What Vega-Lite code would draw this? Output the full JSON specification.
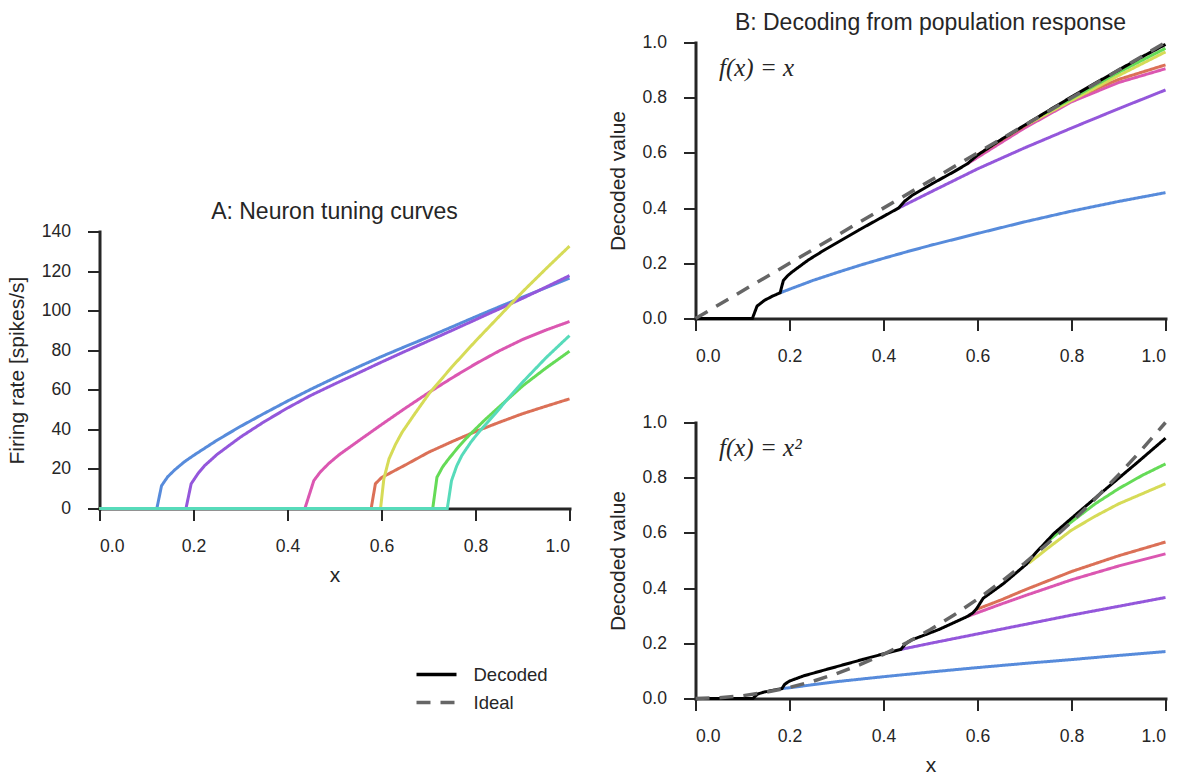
{
  "$schema": "https://vega.github.io/schema/vega-lite/v6.json",
  "background": "white",
  "padding": {"left": 6.5, "top": 11.5, "right": 5, "bottom": 5},
  "config": {
    "font": "Liberation Sans",
    "view": {"stroke": null},
    "axis": {
      "domainColor": "#262626", "domainWidth": 3, "domainCap": "square",
      "tickColor": "#262626", "tickWidth": 2, "tickSize": 12,
      "labelColor": "#262626", "labelFont": "Liberation Sans", "labelFontSize": 17.6,
      "titleColor": "#262626", "titleFont": "Liberation Sans", "titleFontSize": 21, "titleFontWeight": "normal",
      "grid": false, "zindex": 1
    },
    "axisY": {"titlePadding": 13.5, "labelPadding": 17},
    "axisX": {"titlePadding": 9, "labelPadding": 17},
    "title": {"font": "Liberation Sans", "fontSize": 23, "fontWeight": "normal", "color": "#262626", "frame": "group", "baseline": "alphabetic", "offset": -1},
    "legend": {
      "labelFont": "Liberation Sans", "labelFontSize": 18.5, "labelColor": "#262626",
      "symbolType": "stroke", "symbolSize": 1600, "symbolStrokeWidth": 3.5, "labelOffset": 15,
      "padding": 0, "rowPadding": 0, "clipHeight": 28
    }
  },
  "datasets": {
    "tuning": [
      {"series":"n1","x":0,"y":0},{"series":"n1","x":0.122,"y":0},{"series":"n1","x":0.132,"y":11.5},{"series":"n1","x":0.145,"y":16},{"series":"n1","x":0.16,"y":19.5},{"series":"n1","x":0.18,"y":23.5},{"series":"n1","x":0.2,"y":26.8},{"series":"n1","x":0.25,"y":34.5},{"series":"n1","x":0.3,"y":41.5},{"series":"n1","x":0.35,"y":48},{"series":"n1","x":0.4,"y":54.3},{"series":"n1","x":0.45,"y":60.3},{"series":"n1","x":0.5,"y":66},{"series":"n1","x":0.55,"y":71.5},{"series":"n1","x":0.6,"y":76.8},{"series":"n1","x":0.65,"y":81.8},{"series":"n1","x":0.7,"y":86.7},{"series":"n1","x":0.75,"y":91.8},{"series":"n1","x":0.8,"y":96.9},{"series":"n1","x":0.85,"y":101.9},{"series":"n1","x":0.9,"y":106.8},{"series":"n1","x":0.95,"y":111.6},{"series":"n1","x":1.0,"y":116.4},
      {"series":"n2","x":0,"y":0},{"series":"n2","x":0.184,"y":0},{"series":"n2","x":0.195,"y":12.5},{"series":"n2","x":0.21,"y":17.8},{"series":"n2","x":0.223,"y":21.5},{"series":"n2","x":0.25,"y":27.3},{"series":"n2","x":0.3,"y":36.1},{"series":"n2","x":0.35,"y":43.8},{"series":"n2","x":0.4,"y":50.8},{"series":"n2","x":0.45,"y":57.2},{"series":"n2","x":0.5,"y":62.9},{"series":"n2","x":0.55,"y":68.4},{"series":"n2","x":0.6,"y":74},{"series":"n2","x":0.65,"y":79.4},{"series":"n2","x":0.7,"y":84.7},{"series":"n2","x":0.75,"y":90},{"series":"n2","x":0.8,"y":95.4},{"series":"n2","x":0.85,"y":100.8},{"series":"n2","x":0.9,"y":106.2},{"series":"n2","x":0.95,"y":111.9},{"series":"n2","x":1.0,"y":117.7},
      {"series":"n3","x":0,"y":0},{"series":"n3","x":0.437,"y":0},{"series":"n3","x":0.456,"y":14.1},{"series":"n3","x":0.47,"y":18.5},{"series":"n3","x":0.488,"y":22.8},{"series":"n3","x":0.51,"y":27.2},{"series":"n3","x":0.55,"y":34.0},{"series":"n3","x":0.6,"y":42.4},{"series":"n3","x":0.65,"y":50.6},{"series":"n3","x":0.7,"y":58.5},{"series":"n3","x":0.75,"y":66.0},{"series":"n3","x":0.8,"y":73.1},{"series":"n3","x":0.85,"y":79.6},{"series":"n3","x":0.9,"y":85.4},{"series":"n3","x":0.95,"y":90.2},{"series":"n3","x":1.0,"y":94.5},
      {"series":"n4","x":0,"y":0},{"series":"n4","x":0.578,"y":0},{"series":"n4","x":0.587,"y":12.5},{"series":"n4","x":0.6,"y":15.6},{"series":"n4","x":0.63,"y":19.4},{"series":"n4","x":0.65,"y":21.9},{"series":"n4","x":0.7,"y":28.4},{"series":"n4","x":0.75,"y":33.8},{"series":"n4","x":0.8,"y":38.9},{"series":"n4","x":0.85,"y":43.5},{"series":"n4","x":0.9,"y":47.9},{"series":"n4","x":0.95,"y":51.7},{"series":"n4","x":1.0,"y":55.4},
      {"series":"n5","x":0,"y":0},{"series":"n5","x":0.598,"y":0},{"series":"n5","x":0.605,"y":15},{"series":"n5","x":0.616,"y":25.1},{"series":"n5","x":0.63,"y":32.5},{"series":"n5","x":0.644,"y":38.6},{"series":"n5","x":0.67,"y":47.6},{"series":"n5","x":0.701,"y":58},{"series":"n5","x":0.75,"y":71.6},{"series":"n5","x":0.8,"y":84.6},{"series":"n5","x":0.85,"y":97},{"series":"n5","x":0.9,"y":109.5},{"series":"n5","x":0.95,"y":121.2},{"series":"n5","x":1.0,"y":132.6},
      {"series":"n6","x":0,"y":0},{"series":"n6","x":0.709,"y":0},{"series":"n6","x":0.718,"y":15.8},{"series":"n6","x":0.73,"y":21},{"series":"n6","x":0.743,"y":25.1},{"series":"n6","x":0.765,"y":31.5},{"series":"n6","x":0.786,"y":36.9},{"series":"n6","x":0.82,"y":44.8},{"series":"n6","x":0.85,"y":51.3},{"series":"n6","x":0.9,"y":61.9},{"series":"n6","x":0.95,"y":71},{"series":"n6","x":1.0,"y":79.5},
      {"series":"n7","x":0,"y":0},{"series":"n7","x":0.74,"y":0},{"series":"n7","x":0.749,"y":14.1},{"series":"n7","x":0.76,"y":21.5},{"series":"n7","x":0.771,"y":26.8},{"series":"n7","x":0.79,"y":33.5},{"series":"n7","x":0.807,"y":38.6},{"series":"n7","x":0.842,"y":47.9},{"series":"n7","x":0.87,"y":55.8},{"series":"n7","x":0.9,"y":63.8},{"series":"n7","x":0.95,"y":76.2},{"series":"n7","x":1.0,"y":87.4}
    ],
    "decx": [
      {"series":"n1","x":0.18,"y":0.093},{"series":"n1","x":0.2,"y":0.106},{"series":"n1","x":0.25,"y":0.138},{"series":"n1","x":0.3,"y":0.166},{"series":"n1","x":0.35,"y":0.193},{"series":"n1","x":0.4,"y":0.218},{"series":"n1","x":0.45,"y":0.242},{"series":"n1","x":0.5,"y":0.265},{"series":"n1","x":0.6,"y":0.308},{"series":"n1","x":0.7,"y":0.35},{"series":"n1","x":0.8,"y":0.389},{"series":"n1","x":0.9,"y":0.424},{"series":"n1","x":1.0,"y":0.456},
      {"series":"n2","x":0.432,"y":0.40},{"series":"n2","x":0.5,"y":0.458},{"series":"n2","x":0.6,"y":0.542},{"series":"n2","x":0.7,"y":0.618},{"series":"n2","x":0.8,"y":0.69},{"series":"n2","x":0.9,"y":0.76},{"series":"n2","x":1.0,"y":0.828},
      {"series":"n3","x":0.578,"y":0.56},{"series":"n3","x":0.65,"y":0.637},{"series":"n3","x":0.7,"y":0.69},{"series":"n3","x":0.8,"y":0.785},{"series":"n3","x":0.9,"y":0.855},{"series":"n3","x":1.0,"y":0.905},
      {"series":"n4","x":0.598,"y":0.59},{"series":"n4","x":0.65,"y":0.645},{"series":"n4","x":0.7,"y":0.697},{"series":"n4","x":0.8,"y":0.795},{"series":"n4","x":0.9,"y":0.866},{"series":"n4","x":1.0,"y":0.919},
      {"series":"n5","x":0.709,"y":0.706},{"series":"n5","x":0.8,"y":0.79},{"series":"n5","x":0.9,"y":0.88},{"series":"n5","x":1.0,"y":0.966},
      {"series":"n6","x":0.74,"y":0.74},{"series":"n6","x":0.8,"y":0.797},{"series":"n6","x":0.9,"y":0.892},{"series":"n6","x":1.0,"y":0.979},
      {"series":"Decoded","x":0,"y":0},{"series":"Decoded","x":0.121,"y":0},{"series":"Decoded","x":0.131,"y":0.045},{"series":"Decoded","x":0.147,"y":0.066},{"series":"Decoded","x":0.165,"y":0.082},{"series":"Decoded","x":0.18,"y":0.093},{"series":"Decoded","x":0.187,"y":0.138},{"series":"Decoded","x":0.196,"y":0.155},{"series":"Decoded","x":0.205,"y":0.168},{"series":"Decoded","x":0.24,"y":0.212},{"series":"Decoded","x":0.276,"y":0.25},{"series":"Decoded","x":0.347,"y":0.32},{"series":"Decoded","x":0.4,"y":0.37},{"series":"Decoded","x":0.432,"y":0.40},{"series":"Decoded","x":0.445,"y":0.425},{"series":"Decoded","x":0.461,"y":0.446},{"series":"Decoded","x":0.503,"y":0.488},{"series":"Decoded","x":0.55,"y":0.532},{"series":"Decoded","x":0.578,"y":0.56},{"series":"Decoded","x":0.6,"y":0.592},{"series":"Decoded","x":0.65,"y":0.648},{"series":"Decoded","x":0.7,"y":0.7},{"series":"Decoded","x":0.75,"y":0.752},{"series":"Decoded","x":0.8,"y":0.803},{"series":"Decoded","x":0.85,"y":0.852},{"series":"Decoded","x":0.9,"y":0.9},{"series":"Decoded","x":0.95,"y":0.948},{"series":"Decoded","x":1.0,"y":0.993},
      {"series":"Ideal","x":0,"y":0},{"series":"Ideal","x":1,"y":1}
    ],
    "decx2": [
      {"series":"n1","x":0.184,"y":0.036},{"series":"n1","x":0.2,"y":0.039},{"series":"n1","x":0.3,"y":0.061},{"series":"n1","x":0.4,"y":0.079},{"series":"n1","x":0.5,"y":0.096},{"series":"n1","x":0.6,"y":0.112},{"series":"n1","x":0.7,"y":0.127},{"series":"n1","x":0.8,"y":0.141},{"series":"n1","x":0.9,"y":0.156},{"series":"n1","x":1.0,"y":0.17},
      {"series":"n2","x":0.437,"y":0.178},{"series":"n2","x":0.5,"y":0.2},{"series":"n2","x":0.6,"y":0.234},{"series":"n2","x":0.7,"y":0.268},{"series":"n2","x":0.8,"y":0.302},{"series":"n2","x":0.9,"y":0.334},{"series":"n2","x":1.0,"y":0.366},
      {"series":"n3","x":0.578,"y":0.297},{"series":"n3","x":0.65,"y":0.342},{"series":"n3","x":0.7,"y":0.372},{"series":"n3","x":0.8,"y":0.43},{"series":"n3","x":0.9,"y":0.48},{"series":"n3","x":1.0,"y":0.524},
      {"series":"n4","x":0.598,"y":0.323},{"series":"n4","x":0.65,"y":0.357},{"series":"n4","x":0.7,"y":0.393},{"series":"n4","x":0.8,"y":0.46},{"series":"n4","x":0.9,"y":0.517},{"series":"n4","x":1.0,"y":0.567},
      {"series":"n5","x":0.709,"y":0.49},{"series":"n5","x":0.75,"y":0.545},{"series":"n5","x":0.8,"y":0.61},{"series":"n5","x":0.85,"y":0.66},{"series":"n5","x":0.9,"y":0.705},{"series":"n5","x":1.0,"y":0.778},
      {"series":"n6","x":0.743,"y":0.56},{"series":"n6","x":0.8,"y":0.64},{"series":"n6","x":0.85,"y":0.705},{"series":"n6","x":0.9,"y":0.76},{"series":"n6","x":0.95,"y":0.808},{"series":"n6","x":1.0,"y":0.85},
      {"series":"Decoded","x":0,"y":0},{"series":"Decoded","x":0.122,"y":0},{"series":"Decoded","x":0.132,"y":0.016},{"series":"Decoded","x":0.145,"y":0.023},{"series":"Decoded","x":0.16,"y":0.028},{"series":"Decoded","x":0.184,"y":0.036},{"series":"Decoded","x":0.19,"y":0.052},{"series":"Decoded","x":0.2,"y":0.063},{"series":"Decoded","x":0.23,"y":0.082},{"series":"Decoded","x":0.276,"y":0.104},{"series":"Decoded","x":0.357,"y":0.142},{"series":"Decoded","x":0.405,"y":0.164},{"series":"Decoded","x":0.437,"y":0.178},{"series":"Decoded","x":0.447,"y":0.198},{"series":"Decoded","x":0.458,"y":0.211},{"series":"Decoded","x":0.518,"y":0.25},{"series":"Decoded","x":0.578,"y":0.297},{"series":"Decoded","x":0.59,"y":0.31},{"series":"Decoded","x":0.598,"y":0.325},{"series":"Decoded","x":0.612,"y":0.363},{"series":"Decoded","x":0.655,"y":0.416},{"series":"Decoded","x":0.705,"y":0.488},{"series":"Decoded","x":0.715,"y":0.51},{"series":"Decoded","x":0.725,"y":0.53},{"series":"Decoded","x":0.743,"y":0.562},{"series":"Decoded","x":0.762,"y":0.597},{"series":"Decoded","x":0.811,"y":0.669},{"series":"Decoded","x":0.882,"y":0.772},{"series":"Decoded","x":0.94,"y":0.855},{"series":"Decoded","x":1.0,"y":0.943},
      {"series":"Ideal","x":0,"y":0},{"series":"Ideal","x":0.05,"y":0.0025},{"series":"Ideal","x":0.1,"y":0.01},{"series":"Ideal","x":0.15,"y":0.0225},{"series":"Ideal","x":0.2,"y":0.04},{"series":"Ideal","x":0.25,"y":0.0625},{"series":"Ideal","x":0.3,"y":0.09},{"series":"Ideal","x":0.35,"y":0.1225},{"series":"Ideal","x":0.4,"y":0.16},{"series":"Ideal","x":0.45,"y":0.2025},{"series":"Ideal","x":0.5,"y":0.25},{"series":"Ideal","x":0.55,"y":0.3025},{"series":"Ideal","x":0.6,"y":0.36},{"series":"Ideal","x":0.65,"y":0.4225},{"series":"Ideal","x":0.7,"y":0.49},{"series":"Ideal","x":0.75,"y":0.5625},{"series":"Ideal","x":0.8,"y":0.64},{"series":"Ideal","x":0.85,"y":0.7225},{"series":"Ideal","x":0.9,"y":0.81},{"series":"Ideal","x":0.95,"y":0.9025},{"series":"Ideal","x":1.0,"y":1.0}
    ],
    "note1": [{"x":0.05,"y":0.88,"label":"f(x) = x"}],
    "note2": [{"x":0.05,"y":0.88,"label":"f(x) = x²"}],
    "blank": [{"k":1}]
  },
  "hconcat": [
    {
      "spacing": 0,
      "vconcat": [
        {
          "width": 470, "height": 158,
          "data": {"name": "blank"},
          "mark": {"type": "text", "text": ""},
          "encoding": {}
        },
        {
          "width": 470, "height": 277,
          "title": "A: Neuron tuning curves",
          "data": {"name": "tuning"},
          "mark": {"type": "line", "strokeWidth": 3},
          "encoding": {
            "x": {"field": "x", "type": "quantitative", "scale": {"domain": [0, 1], "nice": false}, "axis": {"title": "x", "values": [0, 0.2, 0.4, 0.6, 0.8, 1], "format": ".1f"}},
            "y": {"field": "y", "type": "quantitative", "scale": {"domain": [0, 140], "nice": false}, "axis": {"title": "Firing rate [spikes/s]", "values": [0, 20, 40, 60, 80, 100, 120, 140]}},
            "color": {"field": "series", "type": "nominal", "scale": {"domain": ["n1","n2","n3","n4","n5","n6","n7","Decoded","Ideal"], "range": ["#578bdb","#9457db","#db57b1","#db7057","#d6db57","#65db57","#57dbba","#000000","#666666"]}, "legend": {"values": ["Decoded","Ideal"], "title": null, "orient": "none", "legendX": 315, "legendY": 618}},
            "strokeDash": {"field": "series", "type": "nominal", "scale": {"domain": ["n1","n2","n3","n4","n5","n6","n7","Decoded","Ideal"], "range": [[1,0],[1,0],[1,0],[1,0],[1,0],[1,0],[1,0],[1,0],[14,10]]}, "legend": {"values": ["Decoded","Ideal"], "title": null, "orient": "none", "legendX": 315, "legendY": 618}}
          }
        }
      ]
    },
    {
      "spacing": 48,
      "vconcat": [
        {
          "width": 470, "height": 276,
          "title": "B: Decoding from population response",
          "data": {"name": "decx"},
          "encoding": {
            "x": {"field": "x", "type": "quantitative", "scale": {"domain": [0, 1], "nice": false}, "axis": {"title": null, "values": [0, 0.2, 0.4, 0.6, 0.8, 1], "format": ".1f"}},
            "y": {"field": "y", "type": "quantitative", "scale": {"domain": [0, 1], "nice": false}, "axis": {"title": "Decoded value", "values": [0, 0.2, 0.4, 0.6, 0.8, 1], "format": ".1f"}}
          },
          "layer": [
            {
              "transform": [{"filter": "datum.series != 'Decoded' && datum.series != 'Ideal'"}],
              "mark": {"type": "line", "strokeWidth": 3},
              "encoding": {
                "color": {"field": "series", "type": "nominal", "scale": {"domain": ["n1","n2","n3","n4","n5","n6","n7","Decoded","Ideal"], "range": ["#578bdb","#9457db","#db57b1","#db7057","#d6db57","#65db57","#57dbba","#000000","#666666"]}, "legend": {"values": ["Decoded","Ideal"], "title": null, "orient": "none", "legendX": 315, "legendY": 618}},
                "strokeDash": {"field": "series", "type": "nominal", "scale": {"domain": ["n1","n2","n3","n4","n5","n6","n7","Decoded","Ideal"], "range": [[1,0],[1,0],[1,0],[1,0],[1,0],[1,0],[1,0],[1,0],[14,10]]}, "legend": {"values": ["Decoded","Ideal"], "title": null, "orient": "none", "legendX": 315, "legendY": 618}}
              }
            },
            {
              "transform": [{"filter": "datum.series == 'Decoded'"}],
              "mark": {"type": "line", "strokeWidth": 3},
              "encoding": {
                "color": {"field": "series", "type": "nominal", "scale": {"domain": ["n1","n2","n3","n4","n5","n6","n7","Decoded","Ideal"], "range": ["#578bdb","#9457db","#db57b1","#db7057","#d6db57","#65db57","#57dbba","#000000","#666666"]}, "legend": {"values": ["Decoded","Ideal"], "title": null, "orient": "none", "legendX": 315, "legendY": 618}},
                "strokeDash": {"field": "series", "type": "nominal", "scale": {"domain": ["n1","n2","n3","n4","n5","n6","n7","Decoded","Ideal"], "range": [[1,0],[1,0],[1,0],[1,0],[1,0],[1,0],[1,0],[1,0],[14,10]]}, "legend": {"values": ["Decoded","Ideal"], "title": null, "orient": "none", "legendX": 315, "legendY": 618}}
              }
            },
            {
              "transform": [{"filter": "datum.series == 'Ideal'"}],
              "mark": {"type": "line", "strokeWidth": 3.5},
              "encoding": {
                "color": {"field": "series", "type": "nominal", "scale": {"domain": ["n1","n2","n3","n4","n5","n6","n7","Decoded","Ideal"], "range": ["#578bdb","#9457db","#db57b1","#db7057","#d6db57","#65db57","#57dbba","#000000","#666666"]}, "legend": {"values": ["Decoded","Ideal"], "title": null, "orient": "none", "legendX": 315, "legendY": 618}},
                "strokeDash": {"field": "series", "type": "nominal", "scale": {"domain": ["n1","n2","n3","n4","n5","n6","n7","Decoded","Ideal"], "range": [[1,0],[1,0],[1,0],[1,0],[1,0],[1,0],[1,0],[1,0],[14,10]]}, "legend": {"values": ["Decoded","Ideal"], "title": null, "orient": "none", "legendX": 315, "legendY": 618}}
              }
            },
            {
              "data": {"name": "note1"},
              "mark": {"type": "text", "font": "Liberation Serif", "fontStyle": "italic", "fontSize": 25, "align": "left", "baseline": "alphabetic", "color": "#262626"},
              "encoding": {"text": {"field": "label"}}
            }
          ]
        },
        {
          "width": 470, "height": 276,
          "data": {"name": "decx2"},
          "encoding": {
            "x": {"field": "x", "type": "quantitative", "scale": {"domain": [0, 1], "nice": false}, "axis": {"title": "x", "values": [0, 0.2, 0.4, 0.6, 0.8, 1], "format": ".1f"}},
            "y": {"field": "y", "type": "quantitative", "scale": {"domain": [0, 1], "nice": false}, "axis": {"title": "Decoded value", "values": [0, 0.2, 0.4, 0.6, 0.8, 1], "format": ".1f"}}
          },
          "layer": [
            {
              "transform": [{"filter": "datum.series != 'Decoded' && datum.series != 'Ideal'"}],
              "mark": {"type": "line", "strokeWidth": 3},
              "encoding": {
                "color": {"field": "series", "type": "nominal", "scale": {"domain": ["n1","n2","n3","n4","n5","n6","n7","Decoded","Ideal"], "range": ["#578bdb","#9457db","#db57b1","#db7057","#d6db57","#65db57","#57dbba","#000000","#666666"]}, "legend": {"values": ["Decoded","Ideal"], "title": null, "orient": "none", "legendX": 315, "legendY": 618}},
                "strokeDash": {"field": "series", "type": "nominal", "scale": {"domain": ["n1","n2","n3","n4","n5","n6","n7","Decoded","Ideal"], "range": [[1,0],[1,0],[1,0],[1,0],[1,0],[1,0],[1,0],[1,0],[14,10]]}, "legend": {"values": ["Decoded","Ideal"], "title": null, "orient": "none", "legendX": 315, "legendY": 618}}
              }
            },
            {
              "transform": [{"filter": "datum.series == 'Decoded'"}],
              "mark": {"type": "line", "strokeWidth": 3},
              "encoding": {
                "color": {"field": "series", "type": "nominal", "scale": {"domain": ["n1","n2","n3","n4","n5","n6","n7","Decoded","Ideal"], "range": ["#578bdb","#9457db","#db57b1","#db7057","#d6db57","#65db57","#57dbba","#000000","#666666"]}, "legend": {"values": ["Decoded","Ideal"], "title": null, "orient": "none", "legendX": 315, "legendY": 618}},
                "strokeDash": {"field": "series", "type": "nominal", "scale": {"domain": ["n1","n2","n3","n4","n5","n6","n7","Decoded","Ideal"], "range": [[1,0],[1,0],[1,0],[1,0],[1,0],[1,0],[1,0],[1,0],[14,10]]}, "legend": {"values": ["Decoded","Ideal"], "title": null, "orient": "none", "legendX": 315, "legendY": 618}}
              }
            },
            {
              "transform": [{"filter": "datum.series == 'Ideal'"}],
              "mark": {"type": "line", "strokeWidth": 3.5},
              "encoding": {
                "color": {"field": "series", "type": "nominal", "scale": {"domain": ["n1","n2","n3","n4","n5","n6","n7","Decoded","Ideal"], "range": ["#578bdb","#9457db","#db57b1","#db7057","#d6db57","#65db57","#57dbba","#000000","#666666"]}, "legend": {"values": ["Decoded","Ideal"], "title": null, "orient": "none", "legendX": 315, "legendY": 618}},
                "strokeDash": {"field": "series", "type": "nominal", "scale": {"domain": ["n1","n2","n3","n4","n5","n6","n7","Decoded","Ideal"], "range": [[1,0],[1,0],[1,0],[1,0],[1,0],[1,0],[1,0],[1,0],[14,10]]}, "legend": {"values": ["Decoded","Ideal"], "title": null, "orient": "none", "legendX": 315, "legendY": 618}}
              }
            },
            {
              "data": {"name": "note2"},
              "mark": {"type": "text", "font": "Liberation Serif", "fontStyle": "italic", "fontSize": 25, "align": "left", "baseline": "alphabetic", "color": "#262626"},
              "encoding": {"text": {"field": "label"}}
            }
          ]
        }
      ]
    }
  ],
  "spacing": 32
}
